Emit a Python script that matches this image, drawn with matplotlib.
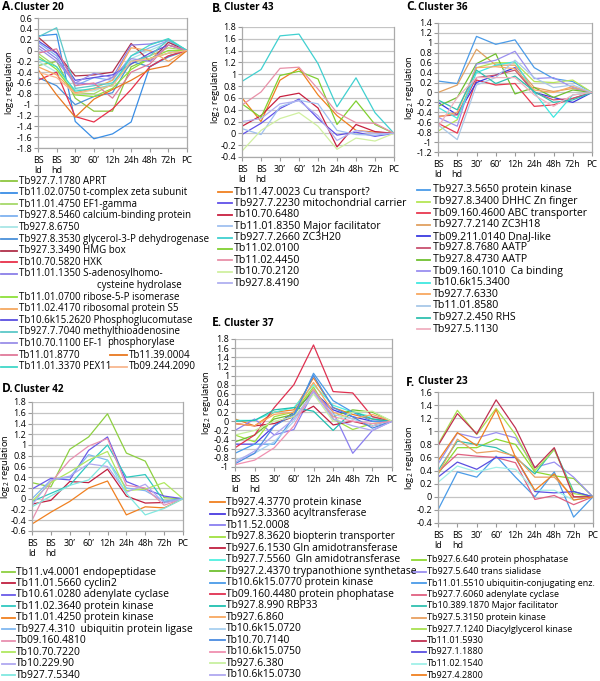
import matplotlib
matplotlib.use("Agg")
import matplotlib.pyplot as plt
from matplotlib.lines import Line2D
import numpy as np

plt.rcParams['font.family'] = ['Open Sans', 'DejaVu Sans']
plt.rcParams['mathtext.default'] = 'regular'

W, H = 600, 681
x_labels = ['BS\nld', 'BS\nhd', '30\u2019', '60\u2019', '12h', '24h', '48h', '72h', 'PC']

# ---- Cluster 20 ----
a_names = ['Tb927.7.1780 APRT', 'Tb11.02.0750 t-complex zeta subunit', 'Tb11.01.4750 EF1-gamma',
           'Tb927.8.5460 calcium-binding protein', 'Tb927.8.6750', 'Tb927.8.3530 glycerol-3-P dehydrogenase',
           'Tb927.3.3490 HMG box', 'Tb10.70.5820 HXK', 'Tb11.01.1350 S-adenosylhomo-',
           'Tb11.01.0700 ribose-5-P isomerase', 'Tb11.02.4170 ribosomal protein S5',
           'Tb10.6k15.2620 Phosphoglucomutase', 'Tb927.7.7040 methylthioadenosine', 'Tb10.70.1100 EF-1',
           'Tb11.01.8770', 'Tb11.01.3370 PEX11', 'Tb11.39.0004', 'Tb09.244.2090']
a_vals = [[-0.28, -0.2, -0.88, -1.12, -1.12, -0.3, -0.15, -0.05, 0],
          [0.27, 0.3, -1.31, -1.63, -1.54, -1.32, -0.3, -0.1, 0],
          [-0.05, -0.3, -0.78, -0.8, -0.62, -0.25, -0.1, 0.05, 0],
          [0.15, -0.1, -0.65, -0.5, -0.55, -0.1, 0.05, 0.18, 0],
          [-0.2, -0.4, -0.72, -0.75, -0.6, -0.15, 0.0, 0.15, 0],
          [-0.5, -0.65, -1.0, -0.85, -0.78, -0.2, -0.3, -0.12, 0],
          [0.25, -0.05, -0.47, -0.45, -0.4, 0.13, -0.2, 0.15, 0],
          [-0.55, -0.4, -1.22, -1.32, -1.08, -0.72, -0.3, -0.1, 0],
          [0.1, -0.15, -0.6, -0.62, -0.5, 0.1, 0.12, 0.2, 0],
          [-0.1, -0.35, -0.82, -0.85, -0.7, -0.35, -0.15, 0.0, 0],
          [-0.3, -0.45, -0.78, -0.7, -0.55, 0.05, 0.0, -0.2, 0],
          [0.18, -0.05, -0.55, -0.5, -0.45, -0.25, -0.05, 0.1, 0],
          [0.25, 0.42, -0.7, -0.65, -0.6, -0.2, -0.1, 0.2, 0],
          [0.05, -0.2, -0.6, -0.42, -0.5, -0.15, -0.2, 0.1, 0],
          [-0.05, 0.03, -0.65, -0.6, -0.88, -0.4, -0.25, 0.1, 0],
          [-0.15, -0.3, -0.75, -0.7, -0.65, -0.1, 0.1, 0.22, 0],
          [-0.35, -0.82, -1.23, -0.9, -0.72, -0.55, -0.35, -0.28, 0],
          [-0.4, -0.5, -0.8, -0.72, -0.65, -0.2, -0.15, -0.05, 0]]
a_colors = ['#8dc63f', '#3a8ee6', '#a6d96a', '#7fb2f0', '#a8e6e6', '#4a90d9', '#b0304a', '#e8304a',
            '#8b7fe8', '#8ee03a', '#f5a860', '#5a4fe0', '#5cc8c8', '#9a8fe8', '#e07a9a', '#40d8c8',
            '#e87820', '#f8b890']

# ---- Cluster 43 ----
b_names = ['Tb11.47.0023 Cu transport?', 'Tb927.7.2230 mitochondrial carrier', 'Tb10.70.6480',
           'Tb11.01.8350 Major facilitator', 'Tb927.7.2660 ZC3H20', 'Tb11.02.0100', 'Tb11.02.4450',
           'Tb10.70.2120', 'Tb927.8.4190']
b_vals = [[0.6, 0.2, 0.9, 1.1, 0.65, 0.3, 0.05, 0.02, 0],
          [-0.02, 0.17, 0.42, 0.58, 0.25, -0.03, 0.02, -0.05, 0],
          [0.12, 0.3, 0.62, 0.68, 0.43, -0.23, 0.15, 0.03, 0],
          [0.08, -0.02, 0.45, 0.56, 0.5, 0.05, -0.02, -0.03, 0],
          [0.88, 1.08, 1.65, 1.68, 1.18, 0.45, 0.94, 0.35, 0],
          [0.5, 0.27, 0.98, 1.05, 0.92, 0.15, 0.55, 0.15, 0],
          [0.48, 0.7, 1.1, 1.12, 0.75, 0.35, 0.18, 0.17, 0],
          [-0.3, 0.05, 0.25, 0.35, 0.12, -0.27, -0.08, -0.13, 0],
          [0.2, 0.25, 0.5, 0.55, 0.3, -0.12, 0.05, 0.0, 0]]
b_colors = ['#f08020', '#6050e8', '#c82040', '#a0c0f0', '#40d0d0', '#80d030', '#e890a8', '#d0f0a0', '#b0b0f0']

# ---- Cluster 36 ----
c_names = ['Tb927.3.5650 protein kinase', 'Tb927.8.3400 DHHC Zn finger', 'Tb09.160.4600 ABC transporter',
           'Tb927.7.2140 ZC3H18', 'Tb09.211.0140 DnaJ-like', 'Tb927.8.7680 AATP', 'Tb927.8.4730 AATP',
           'Tb09.160.1010  Ca binding', 'Tb10.6k15.3400', 'Tb927.7.6330', 'Tb11.01.8580',
           'Tb927.2.450 RHS', 'Tb927.5.1130']
c_vals = [[0.23, 0.18, 1.13, 0.97, 1.06, 0.5, 0.28, 0.22, 0],
          [-0.78, -0.55, 0.5, 0.6, 0.6, 0.22, 0.2, 0.25, 0],
          [-0.62, -0.82, 0.25, 0.15, 0.18, -0.28, -0.25, -0.12, 0],
          [0.0, 0.15, 0.87, 0.55, 0.55, 0.1, 0.02, 0.08, 0],
          [-0.2, -0.45, 0.2, 0.35, 0.5, 0.0, -0.1, -0.2, 0],
          [-0.48, -0.45, 0.3, 0.35, 0.45, 0.0, -0.15, -0.12, 0],
          [-0.28, -0.1, 0.58, 0.78, -0.03, 0.1, -0.1, 0.05, 0],
          [-0.5, -0.68, 0.57, 0.65, 0.83, 0.28, 0.3, 0.1, 0],
          [-0.3, -0.52, 0.4, 0.55, 0.62, 0.0, -0.5, -0.05, 0],
          [-0.5, -0.4, 0.5, 0.52, 0.48, 0.05, 0.0, 0.12, 0],
          [-0.65, -0.95, 0.15, 0.3, 0.65, 0.3, 0.1, 0.15, 0],
          [-0.15, -0.35, 0.45, 0.18, 0.33, 0.02, -0.2, -0.15, 0],
          [-0.7, -0.1, 0.3, 0.3, 0.3, -0.05, -0.28, -0.05, 0]]
c_colors = ['#4a9be8', '#b5e655', '#e8384f', '#e0a060', '#3a3ae0', '#c85070', '#6fc030', '#9a8ff0',
            '#40e8e0', '#f8a860', '#a8c8e8', '#30c0b0', '#f0b0c0']

# ---- Cluster 42 ----
d_names = ['Tb11.v4.0001 endopeptidase', 'Tb11.01.5660 cyclin2', 'Tb10.61.0280 adenylate cyclase',
           'Tb11.02.3640 protein kinase', 'Tb11.01.4250 protein kinase', 'Tb927.4.310  ubiquitin protein ligase',
           'Tb09.160.4810', 'Tb10.70.7220', 'Tb10.229.90', 'Tb927.7.5340']
d_vals = [[0.3, 0.22, 0.92, 1.15, 1.58, 0.85, 0.7, 0.02, 0],
          [-0.1, -0.03, 0.32, 0.3, 0.55, 0.05, -0.08, -0.07, 0],
          [0.18, 0.38, 0.35, 0.9, 1.15, 0.32, 0.18, 0.05, 0],
          [-0.05, 0.1, 0.25, 0.65, 1.0, 0.4, 0.45, -0.05, 0],
          [-0.47, -0.25, -0.05, 0.2, 0.33, -0.3, -0.15, -0.17, 0],
          [0.0, 0.35, 0.4, 0.82, 0.72, 0.2, 0.15, -0.05, 0],
          [-0.4, 0.3, 0.72, 0.98, 1.12, 0.25, 0.2, -0.12, 0],
          [-0.05, 0.3, 0.5, 0.72, 0.88, 0.15, 0.18, 0.3, 0],
          [-0.12, 0.35, 0.42, 0.65, 0.6, 0.12, 0.27, -0.08, 0],
          [-0.15, 0.05, 0.25, 0.35, 0.72, 0.1, -0.3, -0.18, 0]]
d_colors = ['#8dd040', '#c02040', '#6a5ae8', '#30c8c0', '#f08020', '#80b8f0', '#e890b0', '#b0e860',
            '#b0a8f0', '#80e8e0']

# ---- Cluster 37 ----
e_names = ['Tb927.4.3770 protein kinase', 'Tb927.3.3360 acyltransferase', 'Tb11.52.0008',
           'Tb927.8.3620 biopterin transporter', 'Tb927.6.1530 Gln amidotransferase',
           'Tb927.7.5560  Gln amidotransferase', 'Tb927.2.4370 trypanothione synthetase',
           'Tb10.6k15.0770 protein kinase', 'Tb09.160.4480 protein phophatase', 'Tb927.8.990 RBP33',
           'Tb927.6.860', 'Tb10.6k15.0720', 'Tb10.70.7140', 'Tb10.6k15.0750', 'Tb927.6.380', 'Tb10.6k15.0730']
e_vals = [[0.05, -0.1, 0.2, 0.25, 0.95, 0.3, 0.15, 0.05, 0],
          [-0.5, -0.5, -0.1, 0.2, 0.65, 0.25, 0.1, 0.0, 0],
          [-0.2, 0.05, -0.3, -0.18, 0.65, 0.2, -0.7, -0.2, 0],
          [-0.3, -0.45, 0.1, 0.2, 0.75, 0.05, -0.18, -0.05, 0],
          [-0.05, -0.1, -0.05, 0.1, 0.33, -0.08, 0.0, -0.1, 0],
          [0.02, 0.02, 0.2, 0.3, 0.8, 0.35, 0.2, 0.1, 0],
          [-0.45, -0.3, 0.05, 0.15, 0.7, 0.1, 0.25, 0.2, 0],
          [-0.7, -0.5, -0.5, 0.1, 1.05, 0.45, 0.2, 0.0, 0],
          [-0.58, -0.3, 0.3, 0.8, 1.67, 0.65, 0.62, 0.1, 0],
          [0.0, 0.02, 0.25, 0.3, 0.22, -0.2, 0.22, 0.05, 0],
          [-0.05, -0.1, 0.15, 0.2, 0.85, 0.2, 0.05, 0.15, 0],
          [-0.85, -0.7, -0.45, 0.0, 0.6, 0.15, 0.05, -0.1, 0],
          [-0.93, -0.7, -0.1, 0.15, 1.0, 0.3, 0.1, -0.15, 0],
          [-0.95, -0.85, -0.58, -0.1, 0.7, 0.1, 0.0, -0.05, 0],
          [-0.3, -0.2, 0.0, 0.1, 0.6, 0.0, 0.2, 0.22, 0],
          [-0.9, -0.65, -0.3, 0.05, 0.65, 0.05, -0.1, -0.2, 0]]
e_colors = ['#f08020', '#4a3ae0', '#8a7ff0', '#a0e040', '#c02040', '#50f0e0', '#70c030', '#4a9be8',
            '#e03050', '#20c0b0', '#f8a860', '#a8d0f0', '#4a8be0', '#f090b0', '#c8f0a0', '#b0a8f0']

# ---- Cluster 23 ----
f_names = ['Tb927.6.640 protein phosphatase', 'Tb927.5.640 trans sialidase',
           'Tb11.01.5510 ubiquitin-conjugating enz.', 'Tb927.7.6060 adenylate cyclase',
           'Tb10.389.1870 Major facilitator', 'Tb927.5.3150 protein kinase', 'Tb927.7.1240 Diacylglycerol kinase',
           'Tb11.01.5930', 'Tb927.1.1880', 'Tb11.02.1540', 'Tb927.4.2800']
f_vals = [[0.35, 0.75, 0.75, 0.88, 0.8, 0.38, 0.32, 0.28, 0],
          [0.5, 0.97, 0.9, 0.98, 0.9, 0.45, 0.53, 0.3, 0],
          [-0.2, 0.38, 0.3, 0.62, 0.3, 0.0, 0.38, -0.31, 0],
          [0.38, 0.65, 0.62, 0.6, 0.52, -0.04, 0.02, -0.12, 0],
          [0.4, 0.85, 0.8, 0.75, 0.6, 0.35, 0.73, 0.08, 0],
          [0.35, 0.88, 0.67, 0.7, 0.62, 0.3, 0.3, 0.0, 0],
          [0.8, 1.32, 0.95, 1.35, 0.95, 0.4, 0.72, 0.05, 0],
          [0.78, 1.27, 0.96, 1.48, 1.05, 0.44, 0.75, 0.0, 0],
          [0.3, 0.53, 0.42, 0.6, 0.6, 0.08, 0.06, 0.08, 0],
          [0.22, 0.47, 0.38, 0.45, 0.42, 0.1, 0.1, -0.05, 0],
          [0.55, 0.98, 0.78, 1.33, 0.6, 0.1, 0.35, -0.05, 0]]
f_colors = ['#8ed830', '#9a8ff0', '#4a9be8', '#e06080', '#30c0b0', '#e8a060', '#a8e050', '#c03050',
            '#5a4fe0', '#a0f0e8', '#f08020']

fig = plt.figure(figsize=(W / 100, H / 100), dpi=100)

TICK_FS = 6.5


def fx(px):
    return px / W


def fy(py):
    return 1 - py / H


def panel(left, top, right, bottom, ylo, yhi, vals, colors, letter, title, tx, ty, ylx):
    ax = fig.add_axes([fx(left), fy(bottom), fx(right - left), (bottom - top) / H])
    for v, c in zip(vals, colors):
        ax.plot(range(9), v, color=c, lw=0.9)
    ax.set_xlim(0, 8)
    ax.set_ylim(ylo, yhi)
    ticks = np.round(np.arange(ylo, yhi + 0.01, 0.2), 1)
    ax.set_yticks(ticks)
    ax.set_yticklabels(['%g' % t if t != 0 else '0' for t in ticks], fontsize=TICK_FS)
    ax.set_xticks(range(9))
    ax.set_xticklabels(x_labels, fontsize=TICK_FS, linespacing=1.05)
    ax.tick_params(axis='x', length=3, color='#999999', pad=3)
    ax.tick_params(axis='y', length=3, color='#999999', pad=1.2)
    ax.yaxis.grid(True, color='#c4c4c4', lw=0.9)
    ax.set_axisbelow(True)
    for s in ax.spines.values():
        s.set_color('#aaaaaa')
        s.set_linewidth(0.9)
    ax.spines['top'].set_visible(False)
    fig.text(fx(tx), fy(ty), letter, fontsize=8.6, fontweight='bold', va='center', ha='left')
    fig.text(fx(tx + 12), fy(ty), title, fontsize=7.2, fontweight='bold', va='center', ha='left')
    fig.text(fx(ylx), fy((top + bottom) / 2), 'log$_2$ regulation', rotation=90, fontsize=6.7,
             va='center', ha='center')
    return ax


def legend(names, colors, x0, x1, xt, y0, dy, fs, rows=None, xs=None):
    for i, (n, c) in enumerate(zip(names, colors)):
        r = rows[i] if rows else i
        a, b, t = (xs[i] if xs and xs[i] else (x0, x1, xt))
        y = y0 + r * dy
        fig.add_artist(Line2D([fx(a), fx(b)], [fy(y), fy(y)], color=c, lw=1.3))
        fig.text(fx(t), fy(y), n, fontsize=fs, va='center', ha='left')


panel(38, 18, 187, 148, -1.8, 0.6, a_vals, a_colors, 'A.', 'Cluster 20', 2, 7, 10)
panel(242, 27, 394, 157, -0.4, 1.8, b_vals, b_colors, 'B.', 'Cluster 43', 212, 8, 216)
panel(438, 23, 592, 152, -1.2, 1.4, c_vals, c_colors, 'C.', 'Cluster 36', 406, 7, 410)
panel(32, 402, 183, 531, -0.6, 1.8, d_vals, d_colors, 'D.', 'Cluster 42', 2, 389, 6)
panel(235, 339, 392, 467, -1.0, 1.8, e_vals, e_colors, 'E.', 'Cluster 37', 212, 323, 207)
panel(438, 392, 593, 523, -0.4, 1.6, f_vals, f_colors, 'F.', 'Cluster 23', 406, 382, 410)

a_rows = [0, 1, 2, 3, 4, 5, 6, 7, 8, 10, 11, 12, 13, 14, 15, 16, 15, 16]
a_xs = [None] * 16 + [(110, 127, 129), (110, 127, 129)]
legend(a_names, a_colors, 1, 17, 19, 181, 11.6, 7.0, rows=a_rows, xs=a_xs)
fig.text(fx(97), fy(181 + 9 * 11.6), 'cysteine hydrolase', fontsize=7.0, va='center', ha='left')
fig.text(fx(107), fy(342), 'phosphorylase', fontsize=7.0, va='center', ha='left')
legend(b_names, b_colors, 218, 232, 234, 192, 11.4, 7.6)
legend(c_names, c_colors, 417, 430, 433, 190, 11.6, 7.6)
legend(d_names, d_colors, 2, 15, 16, 572, 11.45, 7.5)
legend(e_names, e_colors, 210, 225, 226, 502, 11.53, 7.4)
legend(f_names, f_colors, 412, 426, 427, 560, 11.5, 6.5)

fig.savefig('out.png', dpi=100)
